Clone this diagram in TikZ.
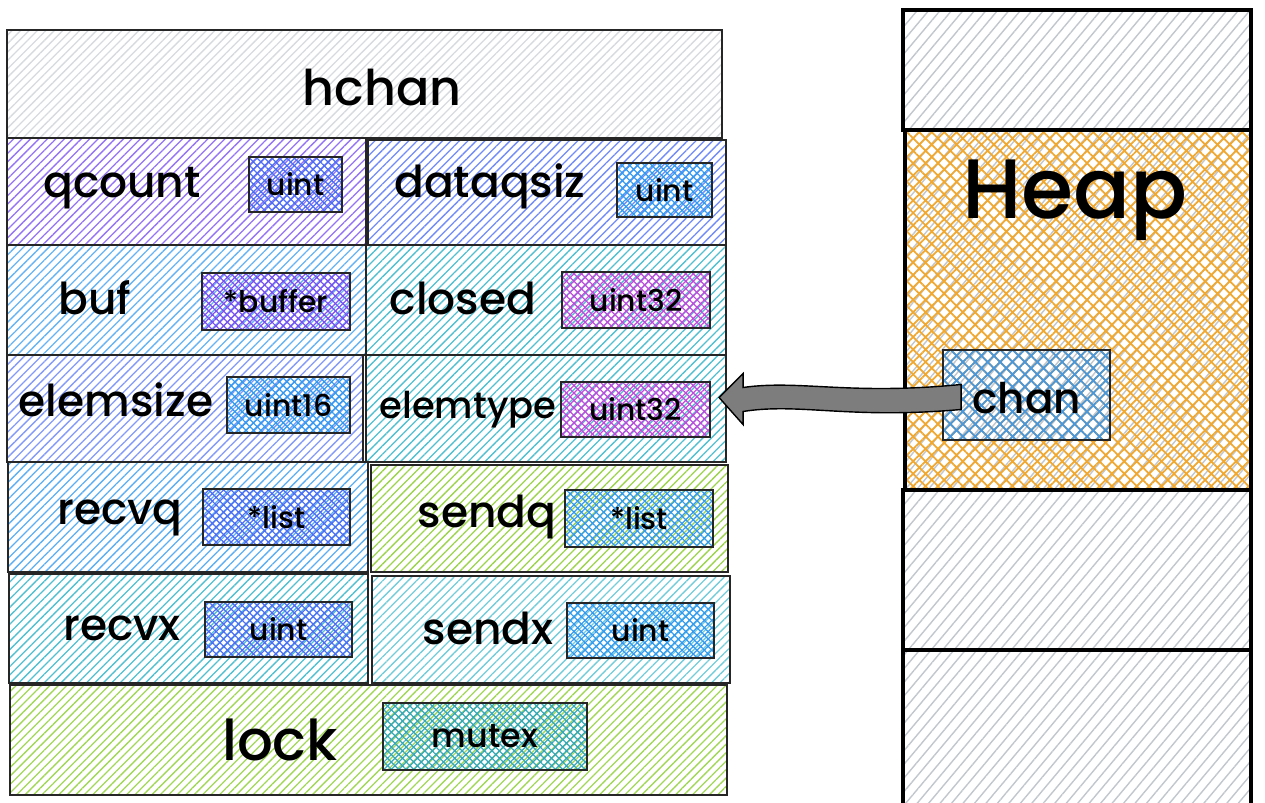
\documentclass[tikz,border=0pt]{standalone}
\usepackage{fontspec}
\setmainfont{Poppins}[UprightFont=* Medium]
\usetikzlibrary{calc,patterns.meta}

\definecolor{greyline}{HTML}{ADB5BD}
\definecolor{violetline}{HTML}{7950F2}
\definecolor{indigoline}{HTML}{4C6EF5}
\definecolor{blueline}{HTML}{339AF0}
\definecolor{cyanline}{HTML}{15AABF}
\definecolor{greenline}{HTML}{82C91E}
\definecolor{grapeline}{HTML}{BE4BDB}
\definecolor{tealline}{HTML}{1098AD}
\definecolor{heapline}{HTML}{F0A830}
\definecolor{chanline}{HTML}{1C7ED6}
\definecolor{arrowgrey}{HTML}{7D7D7D}

\tikzset{
	box/.style n args={2}{minimum width=#1*0.02cm, minimum height=#2*0.02cm},
	cell/.style={draw=black!85, line width=1.2pt, inner sep=0pt},
	hatch/.style={pattern={Lines[angle=45,distance=3.4pt,line width=0.75pt]}, pattern color=#1},
	widehatch/.style={pattern={Lines[angle=50,distance=5pt,line width=0.8pt]}, pattern color=#1},
	cross/.style={pattern={Hatch[angle=45,distance=3pt,line width=0.7pt]}, pattern color=#1},
	column/.style={draw=black, line width=1.8pt, inner sep=0pt},
	fieldtext/.style={font=\fontsize{25}{28}\selectfont},
	typetext/.style={font=\fontsize{17}{20}\selectfont},
}

\begin{document}
\begin{tikzpicture}[x=0.02cm, y=-0.02cm]
			%%%%% START %%%%%
			\useasboundingbox (0, 0) rectangle (1265, 803);
			
			% hchan struct
			\node[cell, box={715}{108}, hatch=greyline!50] (hchan) at (364.5, 84) {};
			\node[fieldtext, font=\fontsize{28}{30}\selectfont] (hchanname) at (382, 88) {hchan};
			
			\node[cell, box={359}{107}, hatch=violetline!80] (qcount) at (186.5, 191.5) {};
			\node[fieldtext] (qcountname) at (122, 188) {qcount};
			\node[cell, box={93}{55}, cross=indigoline] (qcounttype) at (295.5, 184.5) {};
			\node[typetext] at (qcounttype) {uint};
			
			\node[cell, box={358}{105}, hatch=indigoline!80] (dataqsiz) at (547, 192.5) {};
			\node[fieldtext] (dataqsizname) at (490, 186) {dataqsiz};
			\node[cell, box={95}{54}, cross=blueline] (dataqsiztype) at (664.5, 190) {};
			\node[typetext] at (dataqsiztype) {uint};
			
			\node[cell, box={359}{110}, hatch=blueline!75] (buf) at (186.5, 300) {};
			\node[fieldtext] (bufname) at (95, 298) {buf};
			\node[cell, box={148}{57}, cross=violetline] (buftype) at (276, 301.5) {};
			\node[typetext] at (buftype) {*buffer};
			
			\node[cell, box={360}{110}, hatch=cyanline!75] (closed) at (546, 300) {};
			\node[fieldtext] (closedname) at (463, 298) {closed};
			\node[cell, box={148}{56}, cross=grapeline] (closedtype) at (636, 300) {};
			\node[typetext] at (closedtype) {uint32};
			
			\node[cell, box={356}{107}, hatch=indigoline!70] (elemsize) at (185, 408.5) {};
			\node[fieldtext] (elemsizename) at (116, 400) {elemsize};
			\node[cell, box={123}{56}, cross=blueline] (elemsizetype) at (288.5, 405) {};
			\node[typetext] at (elemsizetype) {uint16};
			
			\node[cell, box={360}{107}, hatch=cyanline!75] (elemtype) at (546, 408.5) {};
			\node[fieldtext, font=\fontsize{21}{24}\selectfont] (elemtypename) at (468, 410) {elemtype};
			\node[cell, box={149}{55}, cross=grapeline] (elemtypetype) at (635.5, 409.5) {};
			\node[typetext] at (elemtypetype) {uint32};
			
			\node[cell, box={360}{110}, hatch=blueline!80] (recvq) at (188, 517) {};
			\node[fieldtext] (recvqname) at (120, 518) {recvq};
			\node[cell, box={147}{56}, cross=indigoline] (recvqtype) at (276.5, 517) {};
			\node[typetext] at (recvqtype) {*list};
			
			\node[cell, box={357}{107}, hatch=greenline!80] (sendq) at (549.5, 518.5) {};
			\node[fieldtext] (sendqname) at (487, 517) {sendq};
			\node[cell, box={148}{57}, cross=blueline] (sendqtype) at (639, 518.5) {};
			\node[typetext] at (sendqtype) {*list};
			
			\node[cell, box={359}{109}, hatch=cyanline!75] (recvx) at (188.5, 628.5) {};
			\node[fieldtext] (recvxname) at (122, 628) {recvx};
			\node[cell, box={147}{55}, cross=indigoline] (recvxtype) at (278.5, 629.5) {};
			\node[typetext] at (recvxtype) {uint};
			
			\node[cell, box={358}{107}, hatch=cyanline!60] (sendx) at (551, 629.5) {};
			\node[fieldtext] (sendxname) at (488, 628) {sendx};
			\node[cell, box={147}{55}, cross=blueline] (sendxtype) at (640.5, 630.5) {};
			\node[typetext] at (sendxtype) {uint};
			
			\node[cell, box={717}{110}, hatch=greenline!75] (lock) at (368.5, 740) {};
			\node[fieldtext, font=\fontsize{32}{34}\selectfont] (lockname) at (280, 740) {lock};
			\node[cell, box={204}{67}, cross=tealline!85] (locktype) at (485, 736.5) {};
			\node[typetext, font=\fontsize{19}{22}\selectfont] at (locktype) {mutex};
			
			% memory column
			\node[column, box={348}{120}, widehatch=greyline!75] (stacktop) at (1077, 70) {};
			\node[column, box={346}{360}, preaction={widehatch=greyline!75}, pattern={Hatch[angle=45,distance=5pt,line width=1pt]}, pattern color=heapline] (heap) at (1078, 310) {};
			\node[font=\fontsize{48}{52}\selectfont] (heapname) at (1075, 200) {Heap};
			\node[column, box={348}{160}, widehatch=greyline!75] (free) at (1077, 570) {};
			\node[column, box={348}{170}, widehatch=greyline!75] (stackbottom) at (1077, 735) {};
			
			\node[cell, line width=1.4pt, box={167}{90}, pattern={Hatch[angle=45,distance=5pt,line width=1pt]}, pattern color=chanline!80] (chan) at (1026.5, 395) {};
			\node[fieldtext, font=\fontsize{24}{26}\selectfont] (channame) at (1027, 398) {chan};
			
			% pointer from chan to elemtype
			\coordinate (tip) at ($(elemtype.east)+(-8, -11)$);
			\begin{scope}[shift={(tip)}]
				\draw[fill=arrowgrey, draw=black, line width=0.8pt] (0, 0) -- (24, -24) -- (24, -10)
					.. controls (80, -18) and (130, -2) .. (242, -13) -- (242, 12)
					.. controls (130, 22) and (80, 5) .. (24, 14) -- (24, 27) -- cycle;
			\end{scope}
			
			%%%%% END %%%%%
		\end{tikzpicture}
\end{document}
